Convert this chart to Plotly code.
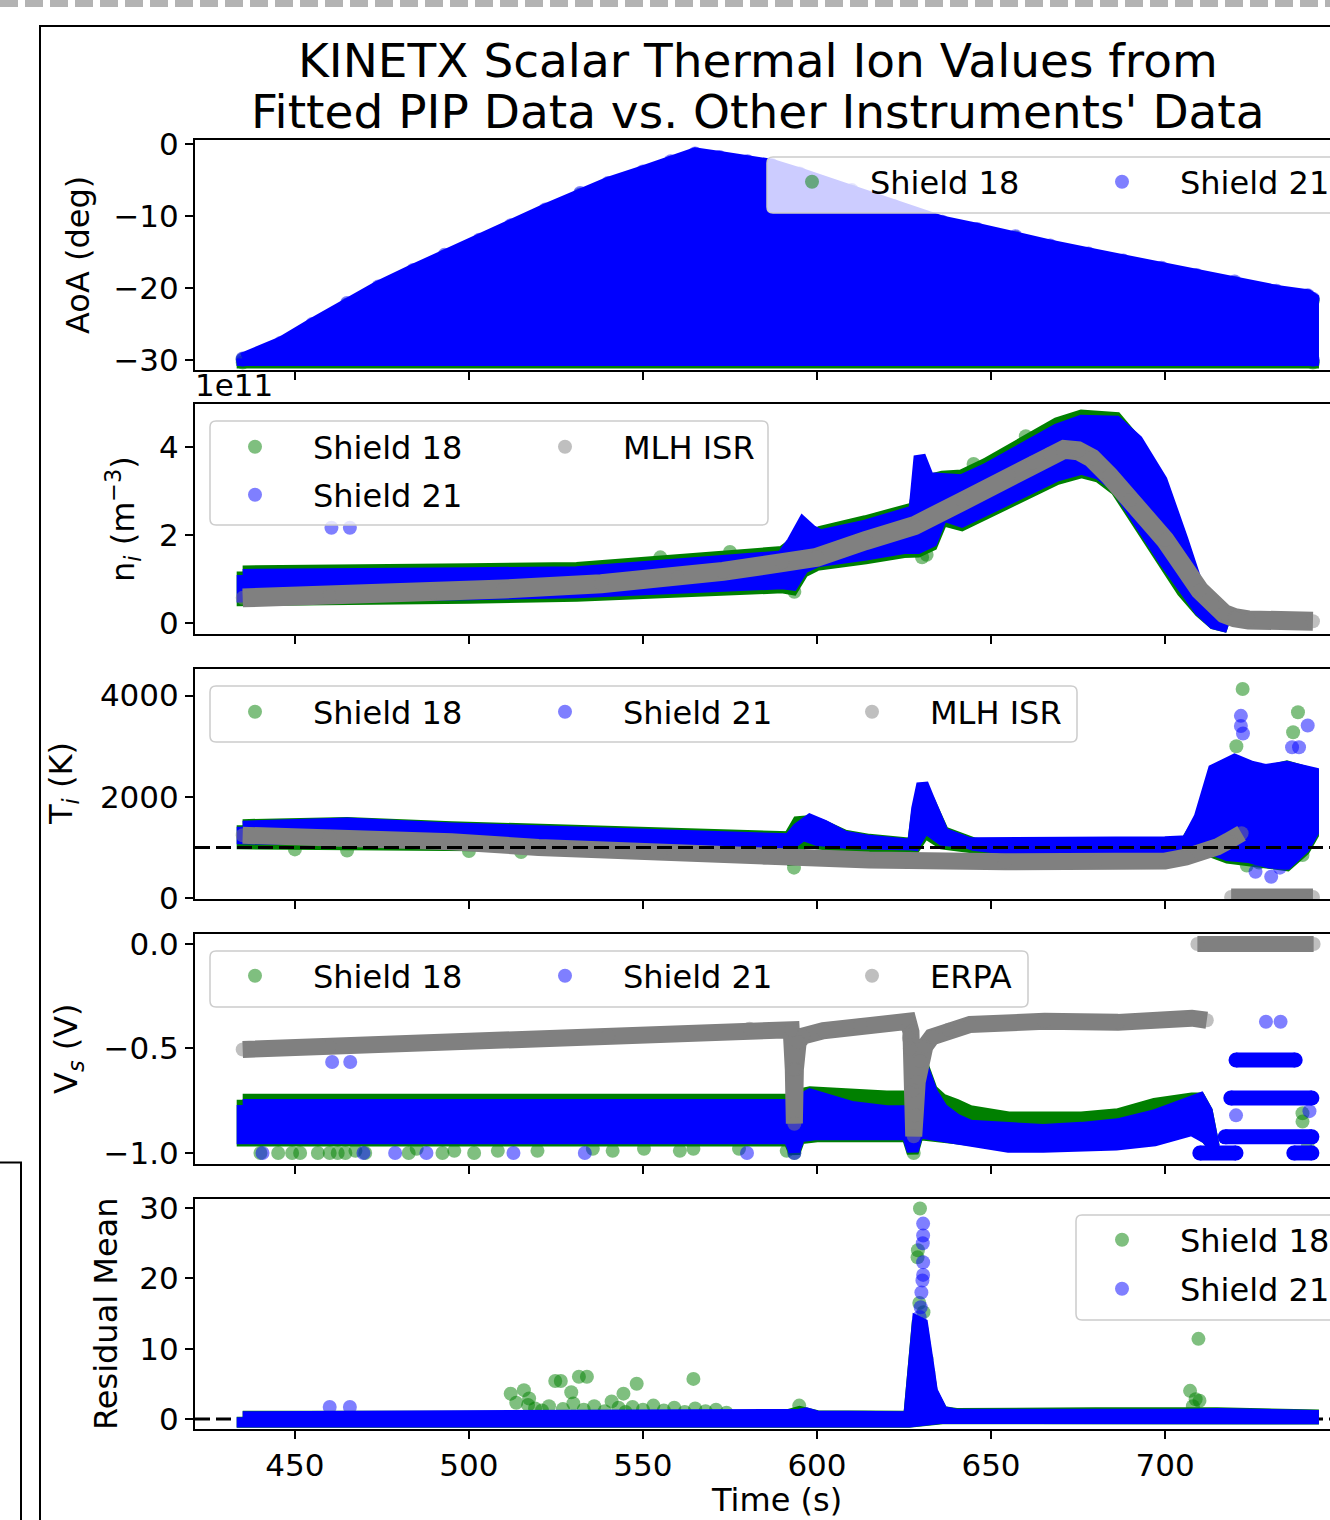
import plotly.graph_objects as go
from plotly.subplots import make_subplots

W, H = 1330, 1520
FONT = "DejaVu Sans"

# ---------------- text / categories ----------------
TITLE_LINES = ["KINETX Scalar Thermal Ion Values from",
               "Fitted PIP Data vs. Other Instruments' Data"]
NAME_S18, NAME_S21 = "Shield 18", "Shield 21"
NAME_ISR, NAME_ERPA = "MLH ISR", "ERPA"
X_TITLE = "Time (s)"
Y_TITLES = ["AoA (deg)", "n<sub><i>i</i></sub> (m<sup>−3</sup>)", "T<sub><i>i</i></sub> (K)",
            "V<sub><i>s</i></sub> (V)", "Residual Mean"]
X_TICKS = [450, 500, 550, 600, 650, 700, 750]
X_RANGE = [421.3, 747.4]
Y_RANGES = [[-31.4, 0.56], [-0.24, 4.98], [-20, 4526], [-1.053, 0.048], [-1.43, 31.3]]
Y_TICKVALS = [[0, -10, -20, -30], [0, 2, 4], [0, 2000, 4000], [0, -0.5, -1.0], [0, 10, 20, 30]]
Y_TICKTEXT = [["0", "−10", "−20", "−30"], ["0", "2", "4"], ["0", "2000", "4000"],
              ["0.0", "−0.5", "−1.0"], ["0", "10", "20", "30"]]
NI_OFFSET_TEXT = "1e11"
TI_REF = 1000
RES_REF = 0

# ---------------- panel 1 : AoA (deg) ----------------
aoa_top_t = [435, 446, 455, 465, 474, 484, 493, 503, 512, 522, 532, 540, 550, 558, 565, 572, 580, 587,
             595, 610, 622, 636, 646, 657, 667, 678, 688, 699, 709, 720, 732, 741, 742.5]
aoa_s21_top = [-29.8, -27.6, -25.0, -22.1, -19.8, -17.5, -15.4, -13.3, -11.3, -9.1, -6.8, -5.4, -3.8,
               -2.4, -1.3, -1.8, -2.4, -2.9, -4.1, -6.4, -8.6, -10.8, -11.8, -12.8, -14.1, -15.2,
               -16.2, -17.2, -18.2, -19.1, -20.4, -21.0, -21.5]
aoa_s18_top = [-29.9, -27.8, -25.2, -22.3, -20.0, -17.7, -15.6, -13.5, -11.5, -9.3, -7.0, -5.6, -4.0,
               -2.6, -1.5, -2.0, -2.6, -3.1, -4.3, -6.6, -8.8, -11.0, -12.0, -13.0, -14.3, -15.4,
               -16.4, -17.4, -18.4, -19.3, -20.6, -21.2, -21.7]
aoa_bot_t = [435, 742.5]
aoa_s21_bot = [-30.0, -30.0]
aoa_s18_bot = [-30.35, -30.35]

# ---------------- panel 2 : n_i (1e11 m^-3) ----------------
ni_top_t = [435, 460, 500, 531, 559, 590, 593, 596, 598.5, 601, 614, 625, 628, 629.5, 630.5, 632, 636,
            641.6, 648.5, 655.4, 662, 669, 676, 681, 686, 692, 699, 705, 710, 714, 718]
ni_s21_top = [1.1, 1.14, 1.14, 1.16, 1.3, 1.52, 1.85, 2.28, 2.1, 2.0, 2.22, 2.45, 2.55, 3.8, 3.6, 3.3,
              3.28, 3.25, 3.5, 3.8, 4.1, 4.4, 4.6, 4.62, 4.58, 4.15, 3.25, 1.9, 0.7, 0.05, -0.08]
ni_s18_top = [1.18, 1.22, 1.23, 1.26, 1.4, 1.62, 1.8, 2.0, 1.95, 2.08, 2.32, 2.55, 2.62, 3.3, 3.3, 3.25,
              3.33, 3.36, 3.62, 3.94, 4.25, 4.54, 4.72, 4.72, 4.66, 4.1, 3.2, 1.85, 0.65, 0.05, -0.08]
ni_bot_t = [435, 460, 500, 531, 559, 590, 593, 596, 600, 614, 625, 629, 633, 636, 641.6, 648, 655, 662,
            669, 676, 681, 686, 690, 695, 700, 705, 710, 714, 718]
ni_s21_bot = [0.61, 0.61, 0.66, 0.71, 0.78, 0.91, 0.88, 1.26, 1.41, 1.56, 1.71, 1.71, 1.86, 2.46, 2.31,
              2.61, 2.86, 3.11, 3.36, 3.51, 3.4, 3.1, 2.6, 2.0, 1.4, 0.8, 0.3, 0.0, -0.08]
ni_s18_bot = [0.53, 0.53, 0.58, 0.63, 0.7, 0.82, 0.78, 1.17, 1.33, 1.48, 1.62, 1.63, 1.78, 2.35, 2.23,
              2.53, 2.78, 3.03, 3.28, 3.43, 3.33, 3.03, 2.53, 1.93, 1.33, 0.73, 0.27, 0.0, -0.08]
ni_s21_out_t = [460.5, 465.8]
ni_s21_out = [2.17, 2.17]
ni_s18_out_t = [630.2, 631.5, 687, 593.5, 555, 575, 645, 660]
ni_s18_out = [1.5, 1.56, 3.27, 0.72, 1.5, 1.62, 3.62, 4.25]
ni_isr_t = [435, 460, 490, 510, 538, 560, 573, 590, 600, 614, 628, 642, 655, 662, 667, 671, 675, 679,
            684, 690, 700, 710, 714, 717, 720, 724, 742.5]
ni_isr = [0.58, 0.62, 0.7, 0.78, 0.9, 1.05, 1.18, 1.38, 1.5, 1.88, 2.22, 2.78, 3.35, 3.65, 3.85, 3.95,
          3.92, 3.75, 3.35, 2.8, 1.9, 0.75, 0.4, 0.22, 0.13, 0.08, 0.05]

# ---------------- panel 3 : T_i (K) ----------------
ti_top_t = [435, 465, 495, 525, 555, 585, 592, 594.5, 598, 602, 608, 615, 625.7, 627.6, 628.8, 630.3,
            632, 636.3, 645, 654, 680, 700, 706, 710, 714, 720, 725, 729, 735, 742.5]
ti_s21_top = [1410, 1470, 1375, 1310, 1250, 1180, 1160, 1370, 1545, 1430, 1210, 1130, 1055, 1050, 1770,
              2260, 1970, 1275, 1050, 980, 950, 970, 1080, 1600, 2530, 2730, 2590, 2530, 2590, 2470]
ti_s18_top = [1440, 1480, 1400, 1330, 1280, 1210, 1200, 1500, 1520, 1420, 1230, 1150, 1080, 1070, 1700,
              2150, 1950, 1300, 1080, 1000, 970, 990, 1100, 1550, 2450, 2650, 2550, 2500, 2600, 2450]
ti_bot_t = [435, 470, 500, 530, 560, 590, 593, 596, 600, 610, 625, 628, 631, 636, 645, 680, 700, 706,
            712, 718, 724, 730, 735, 740, 742.5]
ti_s21_bot = [1180, 1160, 1140, 1120, 1100, 1090, 1090, 1250, 1150, 1080, 1060, 1060, 1400, 1150, 1080,
              1100, 1100, 1120, 1000, 850, 810, 700, 680, 1000, 1300]
ti_s18_bot = [1080, 1060, 1040, 1020, 1010, 1000, 700, 1150, 1080, 1000, 990, 990, 1300, 1080, 1000,
              1010, 1020, 1040, 950, 800, 760, 680, 650, 950, 1250]
ti_s18_out_t = [450, 465, 500, 515, 593.4, 722.3, 738.2, 736.8, 723.5, 727, 739.5, 720.5]
ti_s18_out = [960, 940, 930, 910, 600, 4130, 3670, 3277, 640, 700, 850, 3000]
ti_s21_out_t = [721.8, 721.8, 722.4, 741, 730.5, 736.5, 738.5, 733, 726]
ti_s21_out = [3600, 3400, 3250, 3409, 420, 2980, 2980, 600, 520]
ti_isr_t = [435, 460, 495, 520, 555, 585, 615, 654, 680, 700, 706, 710, 715, 718, 722]
ti_isr = [1240, 1210, 1110, 1000, 890, 800, 750, 715, 715, 730, 810, 880, 1010, 1120, 1280]
ti_isr_zero_t = [719, 742.5]
ti_isr_zero = [20, 20]

# ---------------- panel 4 : V_s (V) ----------------
vs_top_t = [435, 592, 593.5, 595, 598, 602, 610, 620, 626, 627.5, 628.8, 630.4, 633, 636, 640, 644, 655,
            665, 676, 686.5, 697, 707.7, 710, 712, 714]
vs_s21_top = [-0.77, -0.77, -0.95, -0.75, -0.72, -0.74, -0.78, -0.8, -0.8, -0.95, -0.7, -0.59, -0.71,
              -0.79, -0.84, -0.87, -0.885, -0.89, -0.88, -0.863, -0.82, -0.75, -0.74, -0.8, -0.97]
vs_s18_top = [-0.745, -0.745, -0.95, -0.72, -0.71, -0.715, -0.725, -0.73, -0.73, -0.95, -0.68, -0.58,
              -0.7, -0.745, -0.77, -0.8, -0.83, -0.835, -0.83, -0.815, -0.765, -0.74, -0.74, -0.8, -0.97]
vs_bot_t = [435, 592, 593.5, 595, 600, 626, 627.5, 629, 640, 655, 665, 686, 697, 707.7, 712, 714]
vs_s21_bot = [-0.93, -0.93, -0.99, -0.92, -0.91, -0.91, -0.99, -0.9, -0.93, -0.97, -0.97, -0.96, -0.94,
              -0.89, -0.93, -0.97]
vs_s18_bot = [-0.94, -0.94, -1.0, -0.93, -0.92, -0.92, -1.0, -0.91, -0.93, -0.96, -0.96, -0.95, -0.93,
              -0.88, -0.93, -0.97]
vs_bar_start = [710, 720.4, 718.9, 717.3, 737]
vs_bar_end = [720.4, 737.4, 742.2, 742.2, 742.2]
vs_bar_level = [-1.0, -0.555, -0.737, -0.923, -1.0]
vs_s21_out_t = [460.7, 465.9, 440.7, 469.7, 478.8, 487.8, 512.8, 533.3, 579.9, 593.5, 729, 733.2, 720.4,
                741.5]
vs_s21_out = [-0.565, -0.565, -1.0, -1.0, -1.0, -1.0, -1.0, -1.0, -1.0, -1.0, -0.372, -0.372, -0.82,
              -0.8]
vs_s18_out_t = [435.6, 440.1, 445.2, 449.2, 451.5, 456.6, 460, 462.3, 464.5, 467.4, 470.2, 482.7, 485,
                492.4, 495.8, 501.5, 508.3, 519.7, 535.6, 541.3, 550.3, 560.6, 564.5, 577.6, 591.3,
                593.5, 627.8, 739.5, 739.5, 741]
vs_s18_out = [-0.923, -1.0, -1.0, -1.0, -1.0, -1.0, -1.0, -1.0, -1.0, -0.99, -1.0, -1.0, -0.98, -1.0,
              -0.99, -1.0, -0.99, -0.99, -0.98, -0.99, -0.98, -0.99, -0.98, -0.98, -0.99, -1.0, -1.0,
              -0.81, -0.85, -0.97]
vs_erpa_t = [435, 460, 500, 540, 580.6, 592.6, 593.2, 593.5, 593.8, 594.6, 596, 601.8, 612.4, 626.2,
             627.0, 627.5, 627.8, 628.2, 628.8, 629.6, 631, 633, 637.8, 644, 665.4, 686.5, 707.7, 712]
vs_erpa = [-0.505, -0.49, -0.465, -0.44, -0.405, -0.41, -0.6, -0.86, -0.6, -0.47, -0.44, -0.415, -0.39,
           -0.37, -0.42, -0.7, -0.92, -0.82, -0.66, -0.56, -0.49, -0.445, -0.41, -0.385, -0.37, -0.375,
           -0.355, -0.365]
vs_erpa_zero_t = [709.3, 742.7]
vs_erpa_zero = [0.0, 0.0]
vs_erpa_out_t = [626.4, 626.7]
vs_erpa_out = [-0.45, -0.5]

# ---------------- panel 5 : residual mean ----------------
res_top_t = [435, 590, 595, 597, 600, 626.5, 627.3, 628.2, 629, 630.2, 631, 632, 633, 634.5, 636, 640,
             660, 680, 690, 705, 710, 715, 742.5]
res_s21_top = [0.25, 0.25, 0.6, 0.8, 0.35, 0.25, 6.0, 12.5, 13.8, 13.5, 11.5, 7.5, 4.0, 2.0, 1.0, 0.6,
               0.45, 0.55, 0.6, 0.6, 0.8, 0.7, 0.45]
res_s18_top = [0.3, 0.3, 1.0, 0.9, 0.4, 0.3, 6.5, 13.0, 14.0, 13.0, 11.0, 7.0, 3.8, 2.0, 1.0, 0.7,
               0.55, 0.8, 0.8, 0.8, 1.2, 0.8, 0.5]
res_bot_t = [435, 626.5, 628, 633, 636, 742.5]
res_s21_bot = [-0.35, -0.35, -0.3, 0.1, 0.15, 0.1]
res_s18_bot = [-0.4, -0.4, -0.35, 0.05, 0.1, 0.05]
res_s18_out_t = [512, 513.6, 515.8, 517.3, 524.8, 526.4, 529.4, 531.6, 533.9, 544.4, 548.2, 564.5, 517,
                 519, 521, 523, 527, 530, 533, 536, 539, 541, 543, 545, 547, 550, 553, 556, 559, 562,
                 565, 568, 571, 574, 594.9, 628.9, 629.6, 629.0, 629.4, 630.6, 628.7, 631.5, 632,
                 709.6, 707.2, 708.8, 709.9, 708]
res_s18_out = [3.6, 2.3, 4.1, 2.9, 5.4, 5.4, 3.8, 6.0, 6.0, 3.6, 5.0, 5.7, 2.0, 1.5, 1.2, 1.8, 1.4, 2.2,
               1.3, 1.8, 1.1, 2.5, 1.6, 1.0, 1.7, 1.3, 1.9, 1.2, 1.6, 1.0, 1.5, 1.1, 1.3, 0.9, 1.9, 23,
               29.95, 24, 16.5, 15.2, 10, 8.5, 6.5, 11.4, 4.0, 2.8, 2.6, 1.8]
res_s21_out_t = [460, 465.8, 630.5, 630.5, 630.4, 630.5, 630.5, 630.3, 629.8, 630.0, 629.5]
res_s21_out = [1.7, 1.7, 27.8, 26.1, 25.0, 22.3, 20.5, 19.7, 15.9, 18.0, 14.5]

# ---------------- styles ----------------
GREEN_SOLID, GREEN_A = "rgb(0,128,0)", "rgba(0,128,0,0.5)"
BLUE_SOLID, BLUE_A = "rgb(0,0,255)", "rgba(0,0,255,0.5)"
GRAY_SOLID, GRAY_A = "rgb(128,128,128)", "rgba(128,128,128,0.5)"
MS = 14

fig = make_subplots(rows=5, cols=1)


def band(row, t_top, top, t_bot, bot, color):
    x = list(t_top) + list(reversed(t_bot))
    y = list(top) + list(reversed(bot))
    x.append(x[0]); y.append(y[0])
    fig.add_trace(go.Scatter(x=x, y=y, mode="lines", fill="toself", fillcolor=color,
                             line=dict(color=color, width=12), showlegend=False,
                             hoverinfo="skip"), row=row, col=1)


def points(row, t, v, color, name, legend, show=True):
    fig.add_trace(go.Scatter(x=list(t), y=list(v), mode="markers", name=name,
                             marker=dict(size=MS, color=color, line=dict(width=0)),
                             legend=legend, showlegend=show), row=row, col=1)


def thick(row, t, v, color, width=18):
    fig.add_trace(go.Scatter(x=list(t), y=list(v), mode="lines",
                             line=dict(color=color, width=width), showlegend=False,
                             hoverinfo="skip"), row=row, col=1)


# panel 1
band(1, aoa_top_t, aoa_s18_top, aoa_bot_t, aoa_s18_bot, GREEN_SOLID)
points(1, aoa_top_t + aoa_bot_t, aoa_s18_top + aoa_s18_bot, GREEN_A, NAME_S18, "legend")
band(1, aoa_top_t, aoa_s21_top, aoa_bot_t, aoa_s21_bot, BLUE_SOLID)
points(1, aoa_top_t + aoa_bot_t, aoa_s21_top + aoa_s21_bot, BLUE_A, NAME_S21, "legend2")

# panel 2
band(2, ni_top_t, ni_s18_top, ni_bot_t, ni_s18_bot, GREEN_SOLID)
points(2, ni_s18_out_t, ni_s18_out, GREEN_A, NAME_S18, "legend3")
band(2, ni_top_t, ni_s21_top, ni_bot_t, ni_s21_bot, BLUE_SOLID)
points(2, ni_s21_out_t, ni_s21_out, BLUE_A, NAME_S21, "legend4")
thick(2, ni_isr_t, ni_isr, GRAY_SOLID, 19)
points(2, ni_isr_t, ni_isr, GRAY_A, NAME_ISR, "legend5")

# panel 3
band(3, ti_top_t, ti_s18_top, ti_bot_t, ti_s18_bot, GREEN_SOLID)
points(3, ti_s18_out_t, ti_s18_out, GREEN_A, NAME_S18, "legend6")
band(3, ti_top_t, ti_s21_top, ti_bot_t, ti_s21_bot, BLUE_SOLID)
points(3, ti_s21_out_t, ti_s21_out, BLUE_A, NAME_S21, "legend7")
thick(3, ti_isr_t, ti_isr, GRAY_SOLID, 17)
thick(3, ti_isr_zero_t, ti_isr_zero, GRAY_SOLID, 17)
points(3, ti_isr_t + ti_isr_zero_t, ti_isr + ti_isr_zero, GRAY_A, NAME_ISR, "legend8")

# panel 4
band(4, vs_top_t, vs_s18_top, vs_bot_t, vs_s18_bot, GREEN_SOLID)
points(4, vs_s18_out_t, vs_s18_out, GREEN_A, NAME_S18, "legend9")
band(4, vs_top_t, vs_s21_top, vs_bot_t, vs_s21_bot, BLUE_SOLID)
for t0, t1, lv in zip(vs_bar_start, vs_bar_end, vs_bar_level):
    fig.add_trace(go.Scatter(x=[t0, t1], y=[lv, lv], mode="lines+markers",
                             line=dict(color=BLUE_SOLID, width=15),
                             marker=dict(size=15, color=BLUE_SOLID), showlegend=False,
                             hoverinfo="skip"), row=4, col=1)
points(4, vs_s21_out_t, vs_s21_out, BLUE_A, NAME_S21, "legend10")
thick(4, vs_erpa_t, vs_erpa, GRAY_SOLID, 17)
thick(4, vs_erpa_zero_t, vs_erpa_zero, GRAY_SOLID, 16)
points(4, vs_erpa_t + vs_erpa_zero_t + vs_erpa_out_t, vs_erpa + vs_erpa_zero + vs_erpa_out,
       GRAY_A, NAME_ERPA, "legend11")

# panel 5
band(5, res_top_t, res_s18_top, res_bot_t, res_s18_bot, GREEN_SOLID)
points(5, res_s18_out_t, res_s18_out, GREEN_A, NAME_S18, "legend12")
band(5, res_top_t, res_s21_top, res_bot_t, res_s21_bot, BLUE_SOLID)
points(5, res_s21_out_t, res_s21_out, BLUE_A, NAME_S21, "legend13")

# ---------------- layout ----------------
def px(x):
    return x / W


def py(y):
    return 1 - y / H


panel_px = [(140, 370), (404, 634), (669, 899), (934, 1164), (1199, 1429)]
ytitle_x_px = [78, 123, 63, 68, 106]
axis_common = dict(showline=True, linecolor="black", linewidth=2, mirror=True, showgrid=False,
                   zeroline=False, ticks="outside", ticklen=8, tickwidth=2, tickcolor="black",
                   automargin=False, tickfont=dict(family=FONT, size=31, color="black"))
for i, (top, bot) in enumerate(panel_px):
    n = "" if i == 0 else str(i + 1)
    fig.layout["xaxis" + n].update(domain=[px(195), 1.0], range=X_RANGE, tickvals=X_TICKS,
                                   showticklabels=(i == 4), **axis_common)
    fig.layout["yaxis" + n].update(domain=[py(bot), py(top)], range=Y_RANGES[i],
                                   tickvals=Y_TICKVALS[i], ticktext=Y_TICKTEXT[i], **axis_common)

# legends: one per entry, positioned by marker centre (container coordinates = page pixels)
legend_pos = {"legend": (812, 182), "legend2": (1122, 182),
              "legend3": (255, 447), "legend4": (255, 495), "legend5": (565, 447),
              "legend6": (255, 712), "legend7": (565, 712), "legend8": (872, 712),
              "legend9": (255, 976), "legend10": (565, 976), "legend11": (872, 976),
              "legend12": (1122, 1240), "legend13": (1122, 1289)}
for key, (mx, my) in legend_pos.items():
    fig.layout[key] = dict(x=px(mx - 58), y=py(my), xref="container", yref="container",
                           xanchor="left", yanchor="middle",
                           bgcolor="rgba(0,0,0,0)", borderwidth=0, itemwidth=106,
                           font=dict(family=FONT, size=32, color="black"))


def rounded_box(x0, y0, x1, y1, r=6):
    rx, ry = r / W, r / H
    X0, X1, Y0, Y1 = px(x0), px(x1), py(y0), py(y1)
    return (f"M {X0 + rx},{Y0} L {X1 - rx},{Y0} Q {X1},{Y0} {X1},{Y0 - ry} "
            f"L {X1},{Y1 + ry} Q {X1},{Y1} {X1 - rx},{Y1} L {X0 + rx},{Y1} "
            f"Q {X0},{Y1} {X0},{Y1 + ry} L {X0},{Y0 - ry} Q {X0},{Y0} {X0 + rx},{Y0} Z")


shapes = []
for (x0, y0, x1, y1) in [(767, 157, 1345, 213), (210, 421, 768, 525), (210, 686, 1077, 742),
                         (210, 951, 1028, 1007), (1076, 1215, 1345, 1320)]:
    shapes.append(dict(type="path", path=rounded_box(x0, y0, x1, y1), xref="paper", yref="paper",
                       fillcolor="rgba(255,255,255,0.8)", line=dict(color="#cccccc", width=1.5),
                       layer="above"))
# reference dashed lines
shapes.append(dict(type="line", xref="x3 domain", x0=0, x1=1, yref="y3", y0=TI_REF, y1=TI_REF,
                   line=dict(color="black", width=3, dash="15px,6px"), layer="above"))
shapes.append(dict(type="line", xref="x5 domain", x0=0, x1=1, yref="y5", y0=RES_REF, y1=RES_REF,
                   line=dict(color="black", width=3, dash="15px,6px"), layer="below"))
# page decorations (frame, neighbouring box, dashed separator)
shapes.append(dict(type="rect", xref="paper", yref="paper", x0=px(40), x1=1.05, y0=-0.05, y1=py(26),
                   line=dict(color="black", width=2), layer="below"))
shapes.append(dict(type="path", xref="paper", yref="paper",
                   path=f"M {px(-5)},{py(1162.5)} L {px(21)},{py(1162.5)} L {px(21)},{py(1530)}",
                   line=dict(color="black", width=2)))
shapes.append(dict(type="line", xref="paper", yref="paper", x0=0, x1=1, y0=py(3.5), y1=py(3.5),
                   line=dict(color="#b3b3b3", width=7, dash="18px,7px")))

title_font = dict(family=FONT, size=47, color="black")
label_font = dict(family=FONT, size=32, color="black")
annotations = [
    dict(text=TITLE_LINES[0], x=px(758), y=py(60), xref="paper", yref="paper", showarrow=False,
         xanchor="center", yanchor="middle", font=title_font),
    dict(text=TITLE_LINES[1], x=px(758), y=py(111), xref="paper", yref="paper", showarrow=False,
         xanchor="center", yanchor="middle", font=title_font),
    dict(text=NI_OFFSET_TEXT, x=px(193), y=py(385), xref="paper", yref="paper", showarrow=False,
         xanchor="left", yanchor="middle", font=dict(family=FONT, size=31, color="black")),
    dict(text=X_TITLE, x=px(776), y=py(1500), xref="paper", yref="paper", showarrow=False,
         xanchor="center", yanchor="middle", font=label_font),
]
for i, (top, bot) in enumerate(panel_px):
    annotations.append(dict(text=Y_TITLES[i], x=px(ytitle_x_px[i]), y=py((top + bot) / 2),
                            xref="paper", yref="paper", showarrow=False, textangle=-90,
                            xanchor="center", yanchor="middle", font=label_font))

fig.update_layout(width=W, height=H, margin=dict(l=0, r=0, t=0, b=0, pad=0, autoexpand=False),
                  paper_bgcolor="white", plot_bgcolor="white", shapes=shapes,
                  annotations=annotations, font=dict(family=FONT, color="black"),
                  hovermode=False)

fig.write_html("out.html", config={"displayModeBar": False},
               post_script="document.body.style.margin='0px';")
